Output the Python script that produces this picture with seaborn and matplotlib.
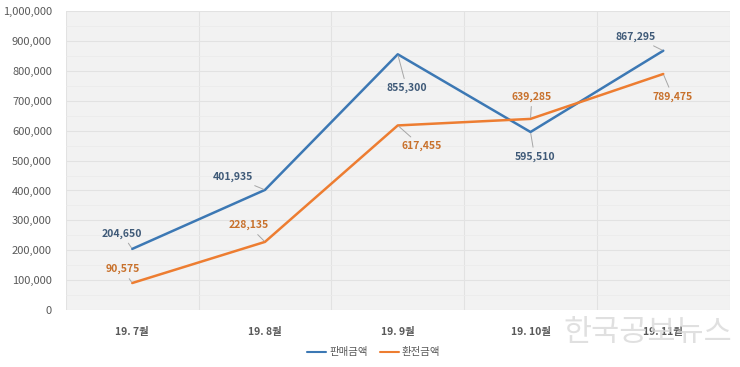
import numpy as np
import pandas as pd
import seaborn as sns
import matplotlib.pyplot as plt
from matplotlib.ticker import FuncFormatter, MultipleLocator

months = ['19. 7월', '19. 8월', '19. 9월', '19. 10월', '19. 11월']
sales = [204650, 401935, 855300, 595510, 867295]
exchange = [90575, 228135, 617455, 639285, 789475]
series_names = ['판매금액', '환전금액']

# label offsets in points (dx, dy) for each series
sales_off = [(-7.5, 11), (-23, 9.5), (6.5, -24.5), (3, -18), (-20, 10)]
exch_off = [(-7, 10), (-12, 12), (17, -15), (1, 16), (7, -16.5)]

df = pd.DataFrame({
    'month': months * 2,
    'x': list(range(len(months))) * 2,
    'value': sales + exchange,
    'series': [series_names[0]] * len(months) + [series_names[1]] * len(months),
})

sns.set_style('whitegrid')
plt.rcParams['font.family'] = ['Noto Sans CJK KR', 'DejaVu Sans']

blue = '#3c78b4'
orange = '#ed7d31'
palette = {series_names[0]: blue, series_names[1]: orange}

fig = plt.figure(figsize=(7.4, 3.67), dpi=100)
ax = fig.add_axes([0.089, 0.155, 0.897, 0.815])
ax.set_facecolor('#f2f2f2')

sns.lineplot(ax=ax, data=df, x='x', y='value', hue='series', palette=palette,
             linewidth=1.8, legend=False)

label_cols = {series_names[0]: '#3f5a78', series_names[1]: '#c8712c'}
for name, vals, offs in [(series_names[0], sales, sales_off), (series_names[1], exchange, exch_off)]:
    for i, (v, off) in enumerate(zip(vals, offs)):
        ax.annotate(f'{v:,}', xy=(i, v), xytext=off, textcoords='offset points',
                    ha='center', va='center', fontsize=7.5, fontweight='bold',
                    color=label_cols[name],
                    arrowprops=dict(arrowstyle='-', color='#a6a6a6', lw=0.7,
                                    shrinkA=1, shrinkB=1))

ax.set_xlim(-0.5, len(months) - 0.5)
ax.set_ylim(0, 1000000)
ax.yaxis.set_major_locator(MultipleLocator(100000))
ax.yaxis.set_minor_locator(MultipleLocator(50000))
ax.yaxis.set_major_formatter(FuncFormatter(lambda v, p: f'{int(v):,}'))
ax.set_xticks(range(len(months)))
ax.set_xticklabels(months, fontweight='bold', color='#595959', fontsize=7.5)
ax.set_xticks(np.arange(-0.5, len(months), 1), minor=True)
ax.tick_params(axis='y', labelsize=8, labelcolor='#595959', length=0, pad=10)
ax.tick_params(axis='x', which='both', length=0, pad=12)

ax.grid(False)
ax.grid(True, axis='y', which='major', color='#e2e2e2', lw=0.8)
ax.grid(True, axis='y', which='minor', color='#ebebeb', lw=0.6)
ax.grid(True, axis='x', which='minor', color='#e2e2e2', lw=0.8)
ax.set_axisbelow(True)
for s in ax.spines.values():
    s.set_visible(False)
ax.set_xlabel('')
ax.set_ylabel('')

handles = [plt.Line2D([], [], color=palette[n], lw=1.5) for n in series_names]
fig.legend(handles, series_names, loc='center', bbox_to_anchor=(0.505, 0.04),
           ncol=2, frameon=False, fontsize=7.5, handlelength=1.8,
           handletextpad=0.3, columnspacing=1.2, labelcolor='#595959')

# watermark
fig.text(0.875, 0.095, '한국공보뉴스', ha='center', va='center', fontsize=22,
         color='#d9d9d9', alpha=0.8)

fig.savefig('out.png', dpi=100)
